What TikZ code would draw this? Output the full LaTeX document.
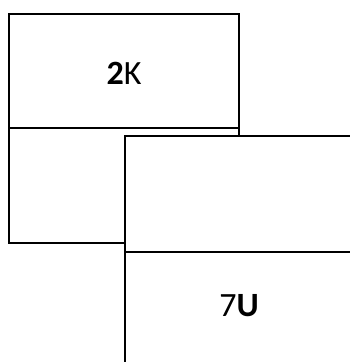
\documentclass[tikz,border=0pt]{standalone}
\usepackage{fontspec}
\setmainfont{Carlito}
\begin{document}
\begin{tikzpicture}[x=1pt,y=-1pt,
  box/.style={draw=black,fill=white,line width=1.5pt},
  lbl/.style={inner sep=0pt,font=\fontsize{34}{40}\selectfont}]
\useasboundingbox (0,0) rectangle (350,362);
\begin{scope}
\clip (0,0) rectangle (350,362);
% first stack
\draw[box] (9,14) rectangle (239,128);
\draw[box] (9,128) rectangle (239,243);
\node[lbl] (a) at (124,73) {\textbf{2}K};
% second stack
\draw[box] (125,136) rectangle (355,252);
\draw[box] (125,252) rectangle (355,367);
\node[lbl] (b) at (239,306) {7\textbf{U}};
\end{scope}
\end{tikzpicture}
\end{document}
